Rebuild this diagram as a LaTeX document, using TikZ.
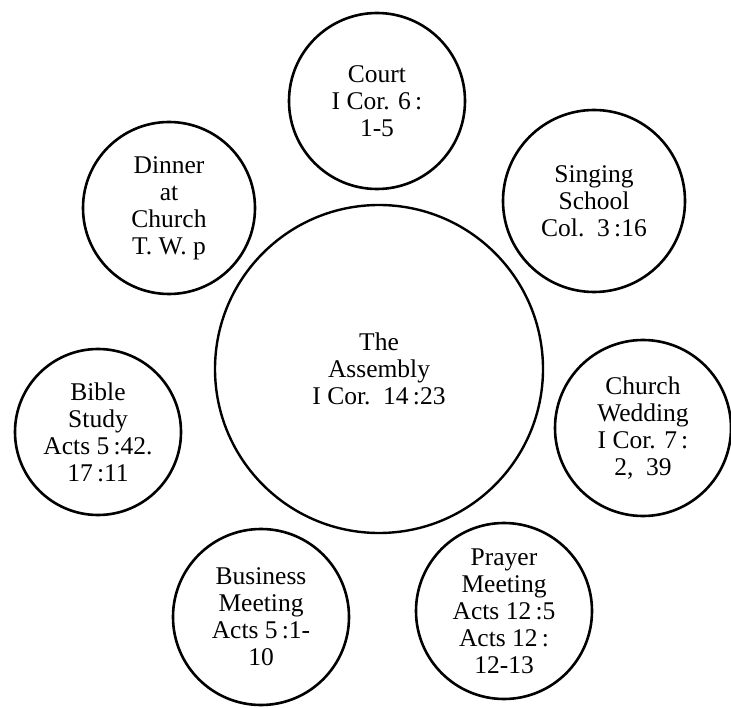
\documentclass[tikz,border=0pt]{standalone}
\usepackage{fontspec}
\setmainfont{Liberation Serif}
\begin{document}
\begin{tikzpicture}[x=1pt,y=-1pt,
  ring/.style={draw=black,line width=2.6pt,circle,inner sep=0pt,align=center,
    font=\fontsize{25.5}{27}\selectfont},
  small/.style={ring,minimum size=176pt},
  big/.style={ring,line width=2.4pt,minimum size=328pt}]
\useasboundingbox (0,0) rectangle (731,708);
\node[big]   (assembly) at (379,369) {The\\Assembly\\I Cor.\ \ 14\,:23};
\node[small] (court)    at (377,101) {Court\\I Cor. 6\,:\\1-5};
\node[small,minimum size=172pt] (dinner)   at (169,208) {Dinner\\at\\Church\\T. W. p};
\node[small,minimum size=182pt] (singing)  at (594,201) {Singing\\School\\Col.\ \ 3\,:16};
\node[small] (wedding)  at (643,428) {Church\\Wedding\\I Cor. 7\,:\\2,\ \ 39};
\node[small,minimum size=166pt] (bible)    at (98,432)  {Bible\\Study\\Acts 5\,:42.\\17\,:11};
\node[small] (business) at (261,617) {Business\\Meeting\\Acts 5\,:1-\\10};
\node[small] (prayer)   at (504,611) {Prayer\\Meeting\\Acts 12\,:5\\Acts 12\,:\\12-13};
\end{tikzpicture}
\end{document}
